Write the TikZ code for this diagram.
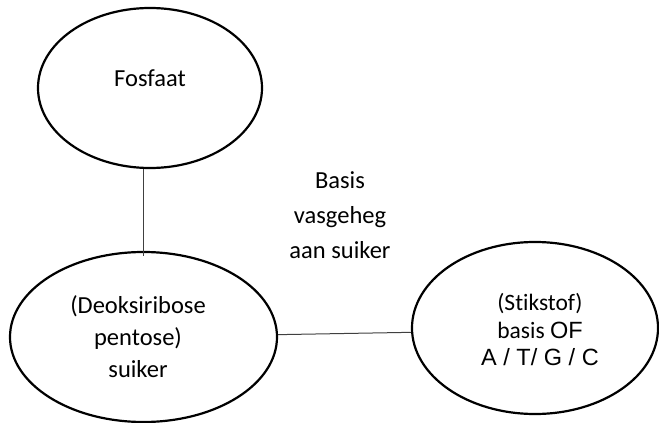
\documentclass[tikz,border=0pt]{standalone}
\usepackage{fontspec}
\setmainfont{Carlito}[Ligatures={NoCommon}]
\newfontfamily\arialfont{Liberation Sans}
\usetikzlibrary{shapes.geometric,calc}
\tikzset{
  blob/.style={ellipse, draw=black, line width=2.2pt, inner sep=0pt},
  txt/.style={align=center, inner sep=0pt, font=\fontsize{24.5}{32}\selectfont},
  link/.style={draw=black!75, line width=1pt}
}
\begin{document}
\begin{tikzpicture}[x=1pt,y=-1pt]
\useasboundingbox (0,0) rectangle (659,423);
\node[blob, minimum width=224pt, minimum height=160pt] (f) at (150,88) {};
\node[txt] (ft) at (150,78) {Fosfaat};
\node[blob, minimum width=267pt, minimum height=170pt] (s) at (143.5,337) {};
\node[txt] (st) at (138,337) {(Deoksiribose\\pentose)\\suiker};
\node[blob, minimum width=246pt, minimum height=172pt] (r) at (535,328) {};
\node[txt, font=\fontsize{23.5}{27.5}\selectfont] (rt) at (540,330) {(Stikstof)\\basis {\arialfont OF}\\{\arialfont A / T/ G / C}};
\node[txt, font=\fontsize{24.5}{35}\selectfont] (b) at (340,215) {Basis\\vasgeheg\\aan suiker};
\draw[link] ($(s.north)+(0,5)$) -- (s.north |- f.south);
\draw[link] (s.1) -- (r.182);
\end{tikzpicture}
\end{document}
